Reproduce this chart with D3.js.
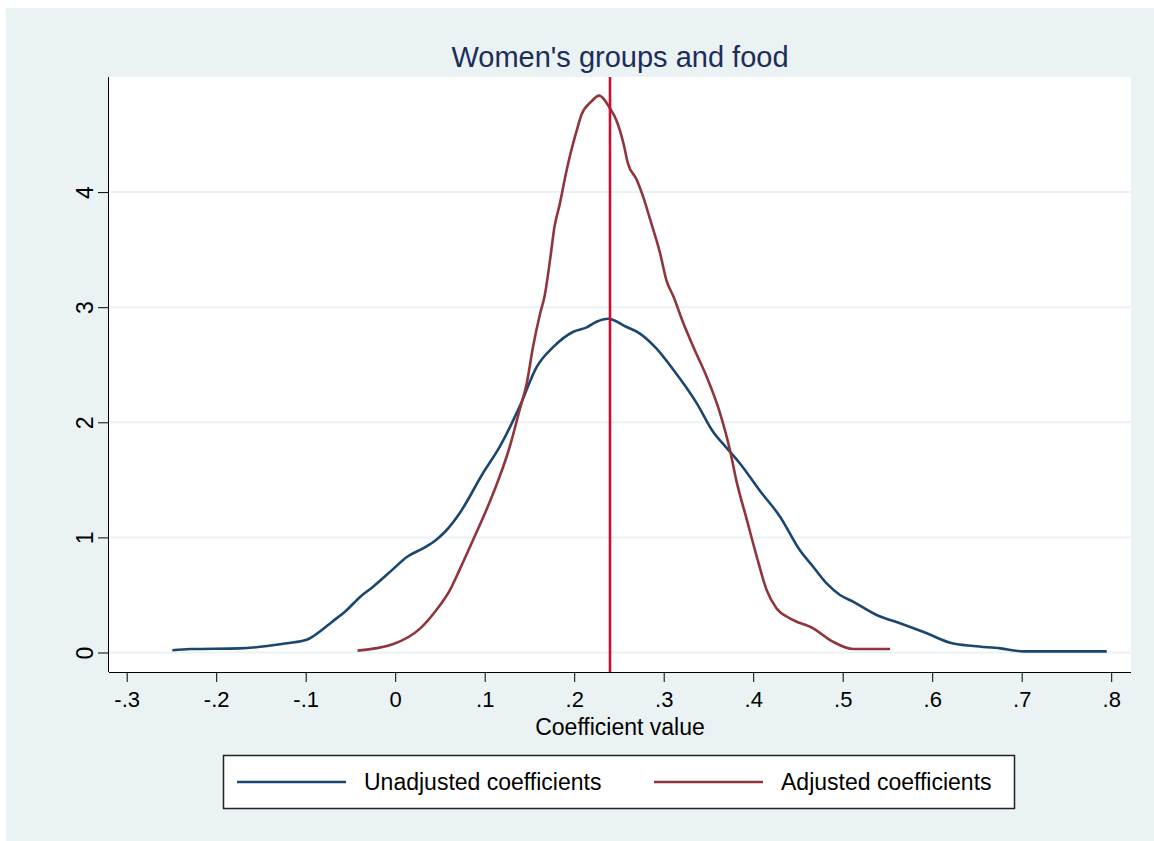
<!DOCTYPE html>
<html>
<head>
<meta charset="utf-8">
<script src="https://cdn.jsdelivr.net/npm/d3@7"></script>
<style>
  body { margin: 0; background: #fff; }
  text { font-family: "Liberation Sans", Arial, sans-serif; }
</style>
</head>
<body>
<svg id="chart" width="1154" height="841"></svg>
<script>
// kernel density estimates
const unadjX = [-0.249, -0.229, -0.174, -0.143, -0.121, -0.099, -0.09, -0.07, -0.054, -0.039, -0.025, -0.003, 0.013, 0.031, 0.046, 0.057, 0.072, 0.098, 0.117, 0.139, 0.158, 0.177, 0.199, 0.214, 0.225, 0.238, 0.258, 0.273, 0.292, 0.311, 0.337, 0.355, 0.37, 0.385, 0.407, 0.43, 0.452, 0.467, 0.482, 0.497, 0.512, 0.538, 0.564, 0.594, 0.62, 0.646, 0.676, 0.702, 0.795]
const unadjY = [0.02, 0.03, 0.036, 0.056, 0.08, 0.11, 0.15, 0.27, 0.37, 0.485, 0.57, 0.72, 0.83, 0.905, 0.98, 1.06, 1.21, 1.557, 1.79, 2.136, 2.48, 2.657, 2.787, 2.825, 2.874, 2.9, 2.83, 2.773, 2.64, 2.454, 2.165, 1.92, 1.78, 1.644, 1.41, 1.18, 0.89, 0.745, 0.6, 0.5, 0.44, 0.326, 0.254, 0.167, 0.085, 0.056, 0.036, 0.01, 0.01]

const adjX = [-0.042, -0.002, 0.028, 0.046, 0.061, 0.072, 0.087, 0.1095, 0.128, 0.139, 0.147, 0.154, 0.162, 0.167, 0.173, 0.178, 0.184, 0.19, 0.195, 0.203, 0.208, 0.219, 0.228, 0.24, 0.247, 0.255, 0.26, 0.27, 0.277, 0.285, 0.296, 0.303, 0.311, 0.322, 0.333, 0.348, 0.363, 0.374, 0.381, 0.393, 0.404, 0.415, 0.426, 0.441, 0.467, 0.489, 0.512, 0.553]
const adjY = [0.016, 0.074, 0.21, 0.37, 0.54, 0.72, 0.977, 1.383, 1.788, 2.107, 2.339, 2.657, 2.947, 3.1, 3.41, 3.7, 3.9, 4.134, 4.307, 4.54, 4.67, 4.786, 4.838, 4.728, 4.627, 4.424, 4.25, 4.105, 3.96, 3.758, 3.468, 3.236, 3.09, 2.86, 2.657, 2.396, 2.078, 1.76, 1.5, 1.15, 0.832, 0.543, 0.384, 0.297, 0.21, 0.094, 0.03, 0.03]

const xTicks = [-0.3, -0.2, -0.1, 0, 0.1, 0.2, 0.3, 0.4, 0.5, 0.6, 0.7, 0.8]
const xTickLabels = ["-.3", "-.2", "-.1", "0", ".1", ".2", ".3", ".4", ".5", ".6", ".7", ".8"]
const yTicks = [0, 1, 2, 3, 4]
const refLine = 0.24
const seriesNames = ["Unadjusted coefficients", "Adjusted coefficients"]
const seriesColors = ["#1a476f", "#90353b"]

const svg = d3.select("#chart")

// graph region
svg.append("rect")
  .attr("x", 6).attr("y", 8)
  .attr("width", 1148).attr("height", 833)
  .attr("fill", "#eaf2f3")

var plot = {left: 109, right: 1131, top: 77, bottom: 672}

svg.append("rect")
  .attr("x", plot.left).attr("y", plot.top)
  .attr("width", plot.right - plot.left).attr("height", plot.bottom - plot.top)
  .attr("fill", "#fff")

var x = d3.scaleLinear().domain([-0.3, 0.8]).range([126.7, 1111.2]),
    y = d3.scaleLinear().domain([0, 4]).range([652.5, 192.1]);

// gridlines
svg.append("g")
  .selectAll("line")
  .data(yTicks)
  .enter().append("line")
    .attr("x1", plot.left).attr("x2", plot.right)
    .attr("y1", d => y(d)).attr("y2", d => y(d))
    .attr("stroke", "#eaf2f3")
    .attr("stroke-width", 2)

// x axis
const xAxis = svg.append("g")
  .attr("transform", "translate(0," + plot.bottom + ")")
  .call(d3.axisBottom(x).tickValues(xTicks).tickSize(10).tickPadding(9)
    .tickFormat((d, i) => xTickLabels[i]))
xAxis.select(".domain").attr("d", "M" + plot.left + ",0.5H" + plot.right)
xAxis.selectAll("line").attr("stroke", "#000")
xAxis.selectAll("text").attr("font-size", 22).attr("fill", "#000")

// y axis
const yAxis = svg.append("g")
  .attr("transform", "translate(" + plot.left + ",0)")
  .call(d3.axisLeft(y).tickValues(yTicks).tickSize(11).tickPadding(0).tickFormat(d3.format("d")))
yAxis.select(".domain").attr("d", "M-0.5," + plot.top + "V" + plot.bottom)
yAxis.selectAll("line").attr("stroke", "#000")
yAxis.selectAll("text")
  .attr("font-size", 23).attr("fill", "#000")
  .attr("x", null).attr("dy", null)
  .attr("text-anchor", "middle")
  .attr("transform", "translate(-16,0) rotate(-90)")

// density curves
const line = d3.line()
  .x(d => x(d[0]))
  .y(d => y(d[1]))
  .curve(d3.curveMonotoneX)

const series = [d3.zip(unadjX, unadjY), d3.zip(adjX, adjY)]

svg.append("g")
  .selectAll("path")
  .data(series)
  .enter().append("path")
    .attr("d", line)
    .attr("fill", "none")
    .attr("stroke", (d, i) => seriesColors[i])
    .attr("stroke-width", 2.6)
    .attr("stroke-linejoin", "round")

// reference line
svg.append("line")
  .attr("x1", x(refLine)).attr("x2", x(refLine))
  .attr("y1", plot.top).attr("y2", plot.bottom)
  .attr("stroke", "#c8102e")
  .attr("stroke-width", 2.6)

// titles
svg.append("text")
  .attr("x", (plot.left + plot.right) / 2).attr("y", 67)
  .attr("text-anchor", "middle")
  .attr("font-size", 29)
  .attr("fill", "#1c2d5a")
  .text("Women's groups and food")

svg.append("text")
  .attr("x", (plot.left + plot.right) / 2).attr("y", 735)
  .attr("text-anchor", "middle")
  .attr("font-size", 23)
  .attr("fill", "#000")
  .text("Coefficient value")

// legend
const legend = svg.append("g")
legend.append("rect")
  .attr("x", 223.5).attr("y", 755.5)
  .attr("width", 791).attr("height", 53)
  .attr("fill", "#fff")
  .attr("stroke", "#222")
  .attr("stroke-width", 1.5)

const legendX = [237, 654]
const item = legend.selectAll(".item")
  .data(seriesNames)
  .enter().append("g")
    .attr("class", "item")
    .attr("transform", (d, i) => "translate(" + legendX[i] + ",782)")
item.append("line")
  .attr("x1", 0).attr("x2", 109)
  .attr("stroke", (d, i) => seriesColors[i])
  .attr("stroke-width", 2.6)
item.append("text")
  .attr("x", 127).attr("y", 8)
  .attr("font-size", 23)
  .attr("fill", "#000")
  .text(d => d)
</script>
</body>
</html>
